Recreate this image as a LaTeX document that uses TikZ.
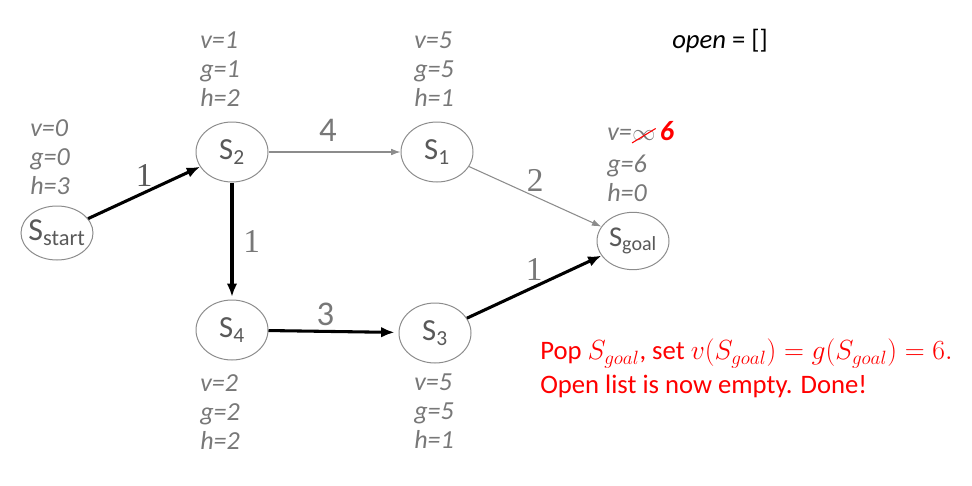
\documentclass[tikz,border=0pt]{standalone}
\usepackage{fontspec}
\setmainfont{Carlito}
\newfontfamily\costfont{Liberation Serif}
\usetikzlibrary{arrows.meta,shapes.geometric}
\definecolor{lblgray}{HTML}{787878}
\definecolor{stategray}{HTML}{595959}
\definecolor{rimgray}{HTML}{8C8C8C}
\definecolor{popred}{HTML}{FF0000}

\begin{document}
\begin{tikzpicture}[x=0.75pt,y=-0.75pt]
 \tikzset{state/.style={draw=rimgray, ellipse, line width=0.75pt, minimum width=54pt, minimum height=45pt, inner sep=0pt, text=stategray, font=\fontsize{23}{27}\selectfont}}
 \tikzset{info/.style={anchor=north west, align=left, inner sep=0pt, text=lblgray, font=\itshape\fontsize{19.5}{21.75}\selectfont}}
 \tikzset{best/.style={-{Latex[length=10pt,width=8pt]}, line width=2.3pt}}
 \tikzset{tried/.style={-{Latex[length=7pt,width=5pt]}, draw=rimgray, line width=0.8pt}}
 \tikzset{serifcost/.style={text=lblgray, font=\costfont\fontsize{25}{28}\selectfont}}
 \tikzset{sanscost/.style={text=lblgray, font=\fontsize{26}{30}\selectfont}}
  \useasboundingbox (0,0) rectangle (972,486);
  \node[state, minimum height=40.5pt, font=\fontsize{24}{28}\selectfont] (Sstart) at (57,233) {\makebox[0pt]{S\textsubscript{start}}};
  \node[state] (S2) at (232,152) {\makebox[0pt]{S\textsubscript{2}}};
  \node[state] (S1) at (437,152) {\makebox[0pt]{S\textsubscript{1}}};
  \node[state, minimum height=43pt, font=\fontsize{21.5}{26}\selectfont] (Sgoal) at (633,241) {\makebox[0pt]{S\textsubscript{goal}}};
  \node[state] (S4) at (232,330) {\makebox[0pt]{S\textsubscript{4}}};
  \node[state] (S3) at (435,333) {\makebox[0pt]{S\textsubscript{3}}};
  \draw[best] (Sstart) -- node[serifcost, above, text=stategray] {\costfont 1} (S2);
  \draw[tried] (S2) -- node[sanscost, above, xshift=-5pt, yshift=4pt] {4} (S1);
  \draw[tried] (S1) -- node[serifcost, above] {\costfont 2} (Sgoal);
  \draw[best, shorten >=2pt] (S2) -- node[serifcost, right=4pt] {\costfont 1} (S4);
  \draw[best, shorten >=3pt] (S4) -- node[sanscost, above, xshift=-6pt] {3} (S3);
  \draw[best] (S3) -- node[serifcost, above] {\costfont 1} (Sgoal);
  % g, h and v of every state
  \node[info] (startvals) at (30,119) {v=0\\g=0\\h=3};
  \node[info] (S2vals) at (200,32) {v=1\\g=1\\h=2};
  \node[info] (S1vals) at (414,32) {v=5\\g=5\\h=1};
  \node[info] (S4vals) at (200,374) {v=2\\g=2\\h=2};
  \node[info] (S3vals) at (414,374) {v=5\\g=5\\h=1};
  \node[info, anchor=base west] (goalv) at (607,140) {v=};
  \node[info, anchor=base west, font=\fontsize{19}{21.75}\selectfont] (goalinf) at (goalv.base east) {$\infty$};
  \node[anchor=base west, inner sep=0pt, text=popred, font=\bfseries\itshape\fontsize{21}{24}\selectfont] (goalnew) at ([xshift=3pt]goalinf.base east) {6};
  \draw[popred, line width=0.8pt] ([yshift=-2pt]goalinf.south west) -- ([yshift=1pt]goalinf.north east);
  \node[info] (goalvals) at (607,155) {g=6\\h=0};
  % open list and message
  \node[anchor=base west, inner sep=0pt, font=\fontsize{20}{24}\selectfont] (openlist) at (672,48) {\textit{open} = []};
  \node[anchor=north west, align=left, inner sep=0pt, text=popred, font=\fontsize{20}{25.5}\selectfont] (popmsg) at (540,339)
    {Pop $S_{goal}$, set $v(S_{goal})=g(S_{goal})=6.$\\Open list is now empty. Done!};
\end{tikzpicture}
\end{document}
